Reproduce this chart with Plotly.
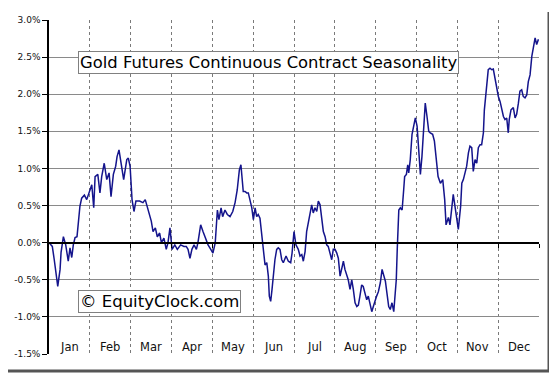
import plotly.graph_objects as go

# Trading-day position within the year (252 per year, 21 per month) and seasonal return in %
days = [0, 1.7, 2.7, 3.6, 4.5, 5.7, 6.2, 7.4, 8.6, 9.9, 10.8, 11.7, 12.5, 13.4, 14.4, 15.1, 15.9, 16.8, 18.2, 19.4,
        19.9, 21.1, 22.0, 23.0, 23.7, 25.1, 26.2, 27.1, 28.4, 29.7, 30.9, 31.9, 33.1, 34.3, 35.0, 36.0, 37.0, 38.4,
        40.0, 40.8, 41.7, 42.7, 43.7, 44.7, 46.6, 48.3, 49.5, 50.9, 52.6, 53.5, 54.7, 55.7, 56.9, 57.8, 59.1, 60.3,
        61.2, 62.2, 63.3, 64.7, 66.0, 67.7, 69.4, 70.6, 71.5, 72.5, 73.5, 74.6, 75.8, 76.6, 78.0, 79.2, 80.4, 81.8,
        83.2, 84.3, 85.5, 86.6, 87.4, 88.5, 89.3, 90.5, 91.7, 93.1, 94.5, 95.7, 96.8, 97.9, 98.7, 99.4, 99.9, 100.8,
        101.7, 102.5, 103.4, 104.3, 105.1, 106.0, 106.8, 107.6, 108.5, 109.4, 110.2, 111.1, 112.0, 112.8, 113.3,
        114.0, 114.7, 115.4, 116.2, 117.1, 117.9, 118.8, 119.7, 120.5, 121.9, 123.1, 124.3, 125.0, 126.0, 127.0,
        128.2, 129.1, 130.0, 130.8, 131.7, 132.5, 133.4, 134.2, 135.1, 135.9, 136.8, 137.7, 138.5, 139.4, 140.3,
        141.1, 142.0, 142.8, 143.6, 144.5, 145.4, 146.2, 147.1, 148.0, 148.8, 149.7, 150.5, 151.4, 152.2, 153.1,
        153.9, 154.8, 155.7, 156.5, 157.4, 158.3, 159.1, 159.9, 160.8, 161.6, 162.5, 163.4, 164.2, 165.1, 166.0,
        166.8, 167.7, 168.5, 169.4, 170.4, 171.3, 172.1, 173.0, 173.8, 174.7, 175.5, 176.4, 177.3, 178.1, 178.6,
        179.1, 179.5, 179.9, 180.7, 181.6, 182.4, 182.9, 183.8, 184.5, 185.0, 185.8, 186.7, 187.6, 188.4, 189.3,
        190.1, 191.0, 191.8, 192.7, 193.5, 194.4, 195.3, 196.1, 197.3, 198.2, 199.0, 200.1, 201.3, 202.5, 203.5,
        204.2, 205.4, 206.2, 207.9, 208.8, 209.7, 210.5, 211.7, 212.3, 213.1, 214.0, 214.8, 215.7, 216.5, 217.4,
        218.2, 219.1, 220.0, 220.8, 221.7, 222.5, 223.4, 223.9, 224.6, 225.3, 225.9, 226.8, 227.7, 228.5, 229.4,
        230.3, 231.1, 232.0, 232.8, 233.7, 234.5, 235.4, 236.2, 236.7, 237.6, 238.8, 239.7, 240.5, 241.4, 242.2,
        243.1, 243.9, 244.8, 245.7, 246.5, 247.4, 248.3, 249.1, 250.0, 250.8, 251.7]

values = [0.00, -0.05, -0.23, -0.45, -0.59, -0.36, -0.13, 0.08, -0.03, -0.25, -0.07, -0.20, -0.03, 0.07, 0.08, 0.27,
          0.49, 0.60, 0.64, 0.58, 0.62, 0.69, 0.78, 0.47, 0.89, 0.92, 0.67, 0.89, 1.07, 0.85, 0.94, 0.62, 0.92, 1.03,
          1.16, 1.25, 1.07, 0.85, 1.12, 1.14, 1.03, 0.58, 0.42, 0.56, 0.56, 0.54, 0.58, 0.44, 0.29, 0.15, 0.20, 0.08,
          0.13, 0.00, 0.06, -0.09, 0.00, 0.20, -0.09, -0.03, -0.09, -0.03, -0.05, -0.05, -0.09, -0.21, -0.09, -0.03,
          -0.09, 0.00, 0.24, 0.15, 0.06, -0.03, -0.09, -0.14, 0.00, 0.44, 0.31, 0.47, 0.35, 0.44, 0.38, 0.35, 0.42,
          0.54, 0.71, 0.98, 1.05, 0.89, 0.69, 0.69, 0.67, 0.67, 0.58, 0.47, 0.31, 0.47, 0.35, 0.38, 0.33, 0.13, -0.05,
          -0.30, -0.27, -0.45, -0.72, -0.79, -0.63, -0.41, -0.23, -0.09, -0.07, -0.09, -0.23, -0.27, -0.18, -0.25,
          -0.27, -0.14, 0.15, -0.03, -0.09, -0.18, -0.16, -0.25, -0.12, 0.15, 0.27, 0.40, 0.51, 0.40, 0.47, 0.42,
          0.56, 0.51, 0.33, 0.15, 0.08, -0.03, -0.05, -0.14, -0.23, -0.09, -0.09, -0.14, -0.21, -0.45, -0.34, -0.25,
          -0.36, -0.45, -0.50, -0.63, -0.50, -0.63, -0.81, -0.86, -0.84, -0.72, -0.57, -0.59, -0.68, -0.77, -0.72,
          -0.84, -0.93, -0.86, -0.77, -0.72, -0.66, -0.54, -0.36, -0.43, -0.52, -0.68, -0.86, -0.90, -0.81, -0.93,
          -0.72, -0.50, -0.09, 0.27, 0.44, 0.47, 0.44, 0.71, 0.89, 0.92, 1.05, 0.94, 1.12, 1.46, 1.59, 1.68, 1.57,
          1.25, 0.92, 1.16, 1.61, 1.88, 1.70, 1.50, 1.48, 1.46, 1.37, 1.12, 0.89, 0.80, 0.85, 0.58, 0.24, 0.34, 0.24,
          0.65, 0.49, 0.27, 0.18, 0.49, 0.80, 0.85, 0.96, 1.03, 1.21, 1.30, 1.28, 0.96, 1.12, 1.07, 1.28, 1.32, 1.32,
          1.48, 1.79, 1.97, 2.15, 2.33, 2.35, 2.33, 2.34, 2.22, 2.06, 1.97, 1.90, 1.79, 1.70, 1.66, 1.68, 1.48, 1.66,
          1.79, 1.82, 1.68, 1.73, 1.88, 2.04, 2.06, 1.97, 1.95, 1.99, 2.17, 2.26, 2.51, 2.65, 2.76, 2.67, 2.74]

months = ["Jan", "Feb", "Mar", "Apr", "May", "Jun", "Jul", "Aug", "Sep", "Oct", "Nov", "Dec"]
days_per_month = 21
y_ticks = [-1.5, -1.0, -0.5, 0.0, 0.5, 1.0, 1.5, 2.0, 2.5, 3.0]
y_grid = [-1.0, -0.5, 0.5, 1.0, 1.5, 2.0, 2.5]
title_text = "Gold Futures Continuous Contract Seasonality"
watermark = "© EquityClock.com"

n_days = days_per_month * len(months)
boundaries = [days_per_month * i for i in range(1, len(months))]
centers = [days_per_month * i + days_per_month / 2 for i in range(len(months))]

# page body margin offset (browser default)
OFF = 8
W, H = 557 - OFF, 380 - OFF
PL, PR, PT, PB = 49 - OFF, 539 - OFF, 20 - OFF, 354 - OFF

fig = go.Figure()
fig.add_trace(go.Scatter(x=days, y=values, mode="lines",
                         line=dict(color="#14148c", width=1.5), yaxis="y", showlegend=False,
                         hoverinfo="skip"))
fig.add_trace(go.Scatter(x=[0], y=[0], mode="markers", marker=dict(opacity=0), yaxis="y2",
                         showlegend=False, hoverinfo="skip"))

font_family = "DejaVu Sans"

fig.update_layout(
    width=W, height=H,
    margin=dict(l=PL, r=W - PR, t=PT, b=H - PB, autoexpand=False),
    paper_bgcolor="white", plot_bgcolor="white",
    font=dict(family=font_family, color="black"),
    xaxis=dict(
        range=[0, n_days], anchor="free", position=1.5 / 4.5,
        showline=True, linecolor="black", linewidth=2,
        tickmode="array", tickvals=boundaries, ticks="outside", ticklen=4, tickwidth=1, tickcolor="black",
        showticklabels=False,
        showgrid=True, gridcolor="#7a7a7a", griddash="dot", gridwidth=1,
        minor=dict(tickvals=[n_days], ticks="outside", ticklen=4, tickcolor="black", showgrid=False),
        zeroline=False,
    ),
    yaxis=dict(
        range=[-1.5, 3.0], tickmode="array", tickvals=y_ticks,
        ticktext=[f"{v:.1f}%" for v in y_ticks],
        showline=True, linecolor="black", linewidth=1.5,
        ticks="outside", ticklen=5, tickcolor="black", tickwidth=1,
        tickfont=dict(size=9, family=font_family, color="#111111"),
        showgrid=False, zeroline=False,
    ),
    yaxis2=dict(
        range=[-1.5, 3.0], overlaying="y", side="left", tickmode="array", tickvals=y_grid,
        showticklabels=False, ticks="", showline=False, zeroline=False,
        showgrid=True, gridcolor="#8a8a8a", gridwidth=1, layer="below traces",
    ),
)


def px_x(p):
    return (p - 49) / 490


def px_y(p):
    return 1 - (p - 20) / 334


for m, c in zip(months, centers):
    fig.add_annotation(x=c, y=-1.4, xref="x", yref="y", text=m, showarrow=False,
                       xanchor="center", yanchor="middle",
                       font=dict(size=11.5, family=font_family, color="#111111"))

fig.add_annotation(x=px_x(78), y=px_y(62.5), xref="paper", yref="paper",
                   text=title_text, showarrow=False, xanchor="left", yanchor="middle",
                   font=dict(size=16.4, family=font_family, color="black"),
                   bgcolor="white", bordercolor="#808080", borderwidth=1, borderpad=1)

fig.add_annotation(x=px_x(78), y=px_y(301), xref="paper", yref="paper",
                   text=watermark, showarrow=False, xanchor="left", yanchor="middle",
                   font=dict(size=16.5, family=font_family, color="black"),
                   bgcolor="white", bordercolor="#808080", borderwidth=1, borderpad=1)

# drop-shadow frame on right and bottom
fig.add_shape(type="line", xref="paper", yref="paper", x0=px_x(549), x1=px_x(549), y0=px_y(12), y1=px_y(372),
              line=dict(color="#555555", width=3))
fig.add_shape(type="line", xref="paper", yref="paper", x0=px_x(5), x1=px_x(550), y0=px_y(371), y1=px_y(371),
              line=dict(color="#555555", width=3))

fig.write_html("out.html")
